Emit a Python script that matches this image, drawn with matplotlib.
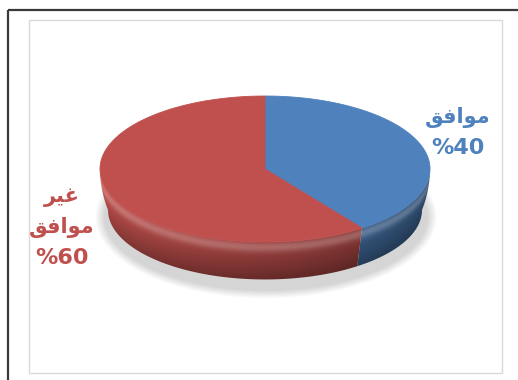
import numpy as np
import matplotlib.pyplot as plt
from matplotlib.patches import Polygon, Rectangle, Ellipse

# survey answers
labels = ['موافق', 'غير موافق']
values = [40, 60]
colors = [(0.310, 0.506, 0.741), (0.753, 0.314, 0.302)]

# arabic words in presentation forms, visual order (matplotlib has no shaping)
label_rows = [
    ['\uFED6\uFED3\uFE8D\uFEEE\uFEE3'],
    ['\uFEAE\uFEF4\uFECF', '\uFED6\uFED3\uFE8D\uFEEE\uFEE3'],
]

W, H = 518, 380
cx, cy = 265, 169      # centre of the top face
a, b = 165, 73         # ellipse radii
depth = 41             # thickness of the disc
round_in = 8           # how far the rounded rim tucks in at the bottom


def inset(s):
    return round_in * s ** 2


def rim(t, s=0.0):
    # t in degrees, clockwise from 12 o'clock; s = 0 top edge .. 1 bottom edge
    r = np.radians(t)
    k = inset(s)
    return cx + (a - k) * np.sin(r), cy - (b - k * b / a) * np.cos(r) + s * depth


fig = plt.figure(figsize=(W / 100, H / 100), dpi=100)
ax = fig.add_axes([0, 0, 1, 1])
ax.set_xlim(0, W)
ax.set_ylim(H, 0)
ax.axis('off')

# frames
ax.plot([8, W], [9.5, 9.5], color='#3a3a3a', lw=1.6, solid_capstyle='butt')
ax.plot([8, 8], [9.5, H], color='#3a3a3a', lw=1.6, solid_capstyle='butt')
ax.add_patch(Rectangle((28.5, 20), 473.5, 353, fill=False, ec='#d9d9d9', lw=1.0))

# soft shadow below the disc
for k in range(14):
    grow = 14 - k
    ax.add_patch(Ellipse((cx + 1, cy + depth + 7), 2 * a - 8 + grow * 1.4, 2 * b + grow * 1.2,
                         fc='#000000', ec='none', alpha=0.011, zorder=1))

# slice angles
fr = np.array(values) / np.sum(values)
edges = np.concatenate([[0], np.cumsum(fr) * 360])

# pixel grid for the side shading
gx, gy = np.meshgrid(np.arange(cx - a - 2, cx + a + 3) + 0.5,
                     np.arange(cy - 5, cy + b + depth + 5) + 0.5)
sx = np.clip((gx - cx) / a, -1, 1)
tt = 180 - np.degrees(np.arcsin(sx))          # front half angle
y_rim = cy - b * np.cos(np.radians(tt))
f = np.clip((gy - y_rim) / depth, 0, 1)
hl = 0.4 * np.exp(-((f - 0.13) / 0.12) ** 2)
vert = 1 - 0.38 * f ** 1.2
ang = 0.55 + 0.5 * (tt - 90) / 180
extent = (gx.min() - 0.5, gx.max() + 0.5, gy.max() + 0.5, gy.min() - 0.5)

ss = np.linspace(0, 1, 30)
for i in range(len(values)):
    t0, t1 = edges[i], edges[i + 1]
    lo, hi = max(t0, 90), min(t1, 270)
    if lo >= hi:
        continue
    base = np.array(colors[i])
    img = base[None, None, :] * (vert * ang)[..., None]
    img = img + (1 - img) * hl[..., None] * 0.55
    img = np.clip(img, 0, 1)
    ts = np.linspace(lo, hi, 120)
    parts = [np.column_stack(rim(ts))]
    if hi == 270:
        parts.append(np.column_stack(rim(np.full_like(ss, 270.0), ss)))
    parts.append(np.column_stack(rim(ts[::-1], 1.0)))
    if lo == 90:
        parts.append(np.column_stack(rim(np.full_like(ss, 90.0), ss[::-1])))
    poly = Polygon(np.vstack(parts), closed=True, fc='none', ec='none')
    ax.add_patch(poly)
    im = ax.imshow(img, extent=extent, origin='upper', interpolation='bilinear',
                   zorder=2, aspect='auto')
    im.set_clip_path(poly)

# top face
for i in range(len(values)):
    ts = np.linspace(edges[i], edges[i + 1], 200)
    pts = np.vstack([[cx, cy], np.column_stack(rim(ts))])
    ax.add_patch(Polygon(pts, closed=True, fc=colors[i], ec=colors[i], lw=0.6, zorder=3))

# labels
txt = dict(fontweight='bold', family='DejaVu Sans', ha='center', va='center', zorder=5)
ax.text(458, 118, label_rows[0][0], color=colors[0], fontsize=15, **txt)
ax.text(458, 148, '%' + str(values[0]), color=colors[0], fontsize=16, **txt)

ax.text(62, 197, label_rows[1][0], color=colors[1], fontsize=15, **txt)
ax.text(62, 228, label_rows[1][1], color=colors[1], fontsize=15, **txt)
ax.text(62, 258, '%' + str(values[1]), color=colors[1], fontsize=16, **txt)

fig.savefig('out.png', dpi=100)
